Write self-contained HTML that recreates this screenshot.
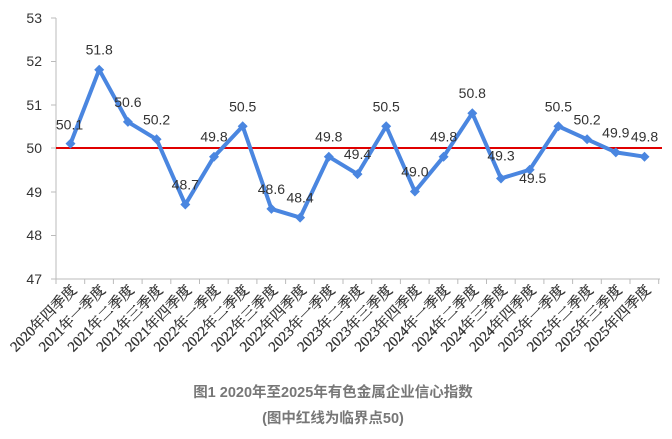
<!DOCTYPE html>
<html><head><meta charset="utf-8"><style>
body{margin:0;background:#fff;width:672px;height:439px;overflow:hidden}
svg{display:block}
</style></head><body>
<svg width="672" height="439" xmlns="http://www.w3.org/2000/svg">
<g font-family="Liberation Sans, sans-serif" font-size="14" fill="#333" text-anchor="end">
<text x="42" y="23">53</text><text x="42" y="66">52</text><text x="42" y="110">51</text>
<text x="42" y="153">50</text><text x="42" y="197">49</text><text x="42" y="240">48</text><text x="42" y="284">47</text>
</g>
<g stroke="#bbb" stroke-width="1">
<line x1="56" y1="18" x2="56" y2="279"/>
<line x1="51" y1="18" x2="56" y2="18"/><line x1="51" y1="61.5" x2="56" y2="61.5"/><line x1="51" y1="105" x2="56" y2="105"/>
<line x1="51" y1="148" x2="56" y2="148"/><line x1="51" y1="192" x2="56" y2="192"/><line x1="51" y1="235.5" x2="56" y2="235.5"/>
<line x1="51" y1="279" x2="660" y2="279"/>
</g>
<g id="ticks" stroke="#bbb"></g>
<line x1="56" y1="148" x2="662" y2="148" stroke="#e00000" stroke-width="2"/>
<polyline fill="none" stroke="#4a86e0" stroke-width="4" stroke-linejoin="round" points="70.5,143.65 99.2,69.7 127.9,121.9 156.6,139.3 185.3,204.55 214,156.7 242.7,126.25 271.4,208.9 300.1,217.6 328.8,156.7 357.5,174.1 386.2,126.25 414.9,191.5 443.6,156.7 472.3,113.2 501,178.45 529.7,169.75 558.4,126.25 587.1,139.3 615.8,152.35 644.5,156.7"/>
<g id="marks" fill="#4a86e0"></g>
<g id="dl" font-family="Liberation Sans, sans-serif" font-size="14" fill="#333" text-anchor="middle"></g>
<g id="xl" font-family="'Liberation Serif','Noto Serif CJK SC', serif" font-size="14.5" fill="#333" stroke="#333" stroke-width="0.3" text-anchor="end"></g>
<g font-family="'Liberation Sans','Noto Sans CJK SC',sans-serif" font-weight="bold" fill="#777" text-anchor="middle" font-size="14.5">
<text x="333" y="397">图1 2020年至2025年有色金属企业信心指数</text>
<text x="333" y="423">(图中红线为临界点50)</text>
</g>
</svg>
<script>
var v=[50.1,51.8,50.6,50.2,48.7,49.8,50.5,48.6,48.4,49.8,49.4,50.5,49.0,49.8,50.8,49.3,49.5,50.5,50.2,49.9,49.8];
var lab=["2020年四季度","2021年一季度","2021年二季度","2021年三季度","2021年四季度","2022年一季度","2022年二季度","2022年三季度","2022年四季度","2023年一季度","2023年二季度","2023年三季度","2023年四季度","2024年一季度","2024年二季度","2024年三季度","2024年四季度","2025年一季度","2025年二季度","2025年三季度","2025年四季度"];
var ns="http://www.w3.org/2000/svg";
function el(t,a,p,txt){var e=document.createElementNS(ns,t);for(var k in a)e.setAttribute(k,a[k]);if(txt)e.textContent=txt;document.getElementById(p).appendChild(e);}
for(var i=0;i<21;i++){
 var x=70.5+i*28.7,y=148-(v[i]-50)*43.5;
 el("path",{d:"M"+x+","+(y-5)+"L"+(x+5)+","+y+"L"+x+","+(y+5)+"L"+(x-5)+","+y+"Z"},"marks");
 var lx=x,ly=y-15;
 if(i==0){lx=x-1;ly=y-14;}
 if(i==16){lx=x+3;ly=y+13;}
 if(i==15){ly=y-18;}
 el("text",{x:lx,y:ly},"dl",v[i].toFixed(1));
 el("line",{x1:56+i*28.7,y1:279,x2:56+i*28.7,y2:284},"ticks");
 el("text",{x:0,y:0,transform:"translate("+(x+7)+",291) rotate(-45)"},"xl",lab[i]);
}
el("line",{x1:658.7,y1:279,x2:658.7,y2:284},"ticks");
</script>
</body></html>
